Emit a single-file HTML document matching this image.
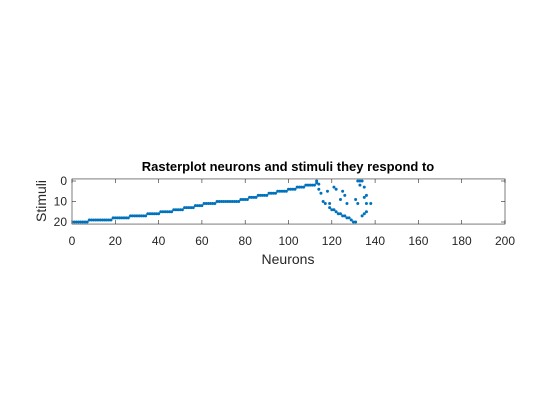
<!DOCTYPE html>
<html><head><meta charset="utf-8"><style>
body{margin:0;background:#fff}
svg{display:block;font-family:"Liberation Sans",Arial,sans-serif}
</style></head><body>
<svg id="c" width="560" height="420"></svg>
<script>
const stepStarts=[1,8,19,27,35,41,47,52,57,61,67,78,82,86,91,95,100,104,108,113];
const stepValues=[20,19,18,17,16,15,14,13,12,11,10,9,8,7,6,5,4,3,2,1];
const scatterNeurons=[113,114,114,115,116,117,118,119,121,122,124,125,126,127,131,132,135,138,132,133,134,133,135,136,136,136,135,134,119,120,121,122,123,124,125,126,127,128,129,130,131];
const scatterStimuli=[0,1.5,4,6,10,11,5,11,3,4,9,5,7,11,9,11,8,11,0,0,0,2,3,7,11,15,16,17,13,14,14,15,16,16,17,17,18,18,19,20,20];
const xTicks=[0,20,40,60,80,100,120,140,160,180,200];
const yTicks=[0,10,20];
const NS="http://www.w3.org/2000/svg",svgEl=document.getElementById('c');
const X0=72,X1=505,Y0=181,Y20=222;
const sx=v=>X0+(X1-X0)*v/200, sy=v=>Y0+(Y20-Y0)*v/20;
function mk(t,a,p){const e=document.createElementNS(NS,t);for(const k in a)e.setAttribute(k,a[k]);(p||svgEl).appendChild(e);return e;}
const yTop=sy(-1),yBot=sy(21);
const box=mk('rect',{x:X0,y:yTop,width:X1-X0,height:yBot-yTop,fill:'#fff',stroke:'#262626','stroke-width':0.6});


xTicks.forEach(v=>{const x=sx(v);
 mk('line',{x1:x,x2:x,y1:yBot,y2:yBot-4,stroke:'#262626','stroke-width':0.6});
 mk('line',{x1:x,x2:x,y1:yTop,y2:yTop+4,stroke:'#262626','stroke-width':0.6});
 const t=mk('text',{x:x,y:yBot+21,'text-anchor':'middle','font-size':12,fill:'#262626'});t.textContent=v;
 
 });
yTicks.forEach(v=>{const y=sy(v);
 mk('line',{x1:X0,x2:X0+4,y1:y,y2:y,stroke:'#262626','stroke-width':0.6});
 mk('line',{x1:X1,x2:X1-4,y1:y,y2:y,stroke:'#262626','stroke-width':0.6});
 const t=mk('text',{x:X0-5,y:y+4,'text-anchor':'end','font-size':12,fill:'#262626'});t.textContent=v;
 
 });
const g=mk('g',{fill:'#0072BD'});


for(let i=0;i<stepStarts.length;i++){
 const end=i+1<stepStarts.length?stepStarts[i+1]:114;
 for(let n=stepStarts[i];n<end;n++){const c=mk('circle',{cx:sx(n),cy:sy(stepValues[i]),r:1.5},g);
  
  }
}
scatterNeurons.forEach((n,i)=>{const c=mk('circle',{cx:sx(n),cy:sy(scatterStimuli[i]),r:1.5},g);
 
 });
const ti=mk('text',{x:288,y:171,'text-anchor':'middle','font-size':13,'font-weight':'bold',fill:'#000'});
ti.textContent='Rasterplot neurons and stimuli they respond to';


const xl=mk('text',{x:288,y:264,'text-anchor':'middle','font-size':14,fill:'#262626'});
xl.textContent='Neurons';


const yl=mk('text',{x:0,y:0,'text-anchor':'middle','font-size':14,fill:'#262626',transform:'translate(46,201) rotate(-90)'});
yl.textContent='Stimuli';


</script>
</body></html>
